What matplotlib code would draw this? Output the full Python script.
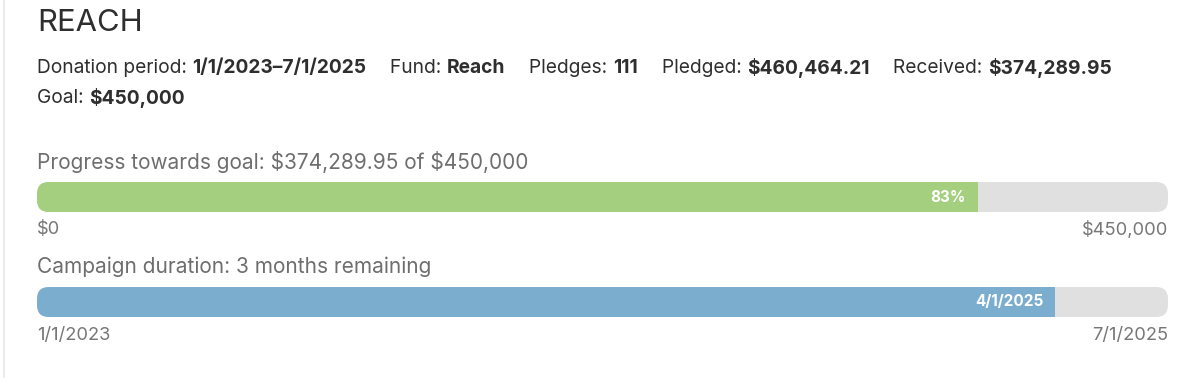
import matplotlib
matplotlib.use("Agg")
import matplotlib.pyplot as plt
from matplotlib.patches import FancyBboxPatch
from datetime import date

# ---------------- data ----------------
fund_title = "REACH"
info_labels = ["Donation period:", "Fund:", "Pledges:", "Pledged:", "Received:"]
info_values = ["1/1/2023\u20137/1/2025", "Reach", "111", "$460,464.21", "$374,289.95"]
goal_label = "Goal:"
goal_value_text = "$450,000"

goal = 450000.0
received = 374289.95
progress_label = "Progress towards goal: $374,289.95 of $450,000"
progress_ticks = ["$0", "$450,000"]

start_date = date(2023, 1, 1)
end_date = date(2025, 7, 1)
current_date = date(2025, 4, 1)
duration_label = "Campaign duration: 3 months remaining"
duration_ticks = ["1/1/2023", "7/1/2025"]
current_label = "4/1/2025"

# ---------------- style ----------------
W, H, DPI = 1200, 378, 100
FONT = "Inter"
DARK = "#2e2e2e"
MID = "#6e6e6e"
GREEN = "#a3cf7f"
BLUE = "#7badcf"
TRACK = "#e0e0e0"

plt.rcParams["font.family"] = [FONT, "DejaVu Sans"]
plt.rcParams["text.parse_math"] = False

fig = plt.figure(figsize=(W / DPI, H / DPI), dpi=DPI)
fig.patch.set_facecolor("white")

def px(x, y):
    """pixel (from top-left) to figure fraction"""
    return x / W, 1 - y / H

# left border line
fig.add_artist(plt.Line2D([3.5 / W, 3.5 / W], [0, 1], color="#e6e6e6", lw=1.2,
                          transform=fig.transFigure))

# title
fig.text(*px(37, 23), fund_title, fontsize=22.3, color=DARK, va="center", ha="left",
         fontweight="normal")

renderer = fig.canvas.get_renderer()
INFO_FS = 13.8

def chain(x, y, parts, gap=24):
    for lab, val in parts:
        t1 = fig.text(*px(x, y), lab + " ", fontsize=INFO_FS, color=DARK, va="center", ha="left")
        x = t1.get_window_extent(renderer).x1
        t2 = fig.text(*px(x, y), val, fontsize=INFO_FS, color=DARK, va="center", ha="left",
                      fontweight="bold")
        x = t2.get_window_extent(renderer).x1 + gap
    return x

chain(37, 68, list(zip(info_labels, info_values)))
chain(37, 98, [(goal_label, goal_value_text)])

BAR_X0, BAR_X1 = 37, 1168

def progress_bar(y_top, value, vmax, color, label, inner_text, ticks):
    fig.text(*px(BAR_X0, y_top - 20), label, fontsize=15.0, color=MID, va="center", ha="left")
    ax = fig.add_axes([BAR_X0 / W, 1 - (y_top + 30) / H, (BAR_X1 - BAR_X0) / W, 30 / H])
    ax.set_xlim(0, vmax)
    ax.set_ylim(0, 1)
    ax.axis("off")
    bg = ax.barh(0.5, vmax, height=1, color=TRACK, edgecolor="none")
    fg = ax.barh(0.5, value, height=1, color=color, edgecolor="none")
    bw, bh = (BAR_X1 - BAR_X0), 30.0
    r = 12.0
    clip = FancyBboxPatch((0, 0), 1, 1, boxstyle=f"round,pad=0,rounding_size={r / bw}",
                          mutation_aspect=bw / bh, transform=ax.transAxes,
                          facecolor="none", edgecolor="none")
    ax.add_patch(clip)
    for p in list(bg) + list(fg):
        p.set_clip_path(clip)
    ax.text(value - vmax * 12 / bw, 0.5, inner_text, color="white", fontsize=11,
            fontweight="bold", ha="right", va="center")
    fig.text(*px(BAR_X0, y_top + 48), ticks[0], fontsize=13.2, color="#777777",
             va="center", ha="left")
    fig.text(*px(BAR_X1, y_top + 48), ticks[1], fontsize=13.2, color="#777777",
             va="center", ha="right")

pct = received / goal * 100
progress_bar(182, received, goal, GREEN, progress_label, f"{pct:.0f}%", progress_ticks)

total_days = (end_date - start_date).days
elapsed_days = (current_date - start_date).days
progress_bar(287, elapsed_days, total_days, BLUE, duration_label, current_label, duration_ticks)

fig.savefig("out.png", dpi=DPI, facecolor="white")
